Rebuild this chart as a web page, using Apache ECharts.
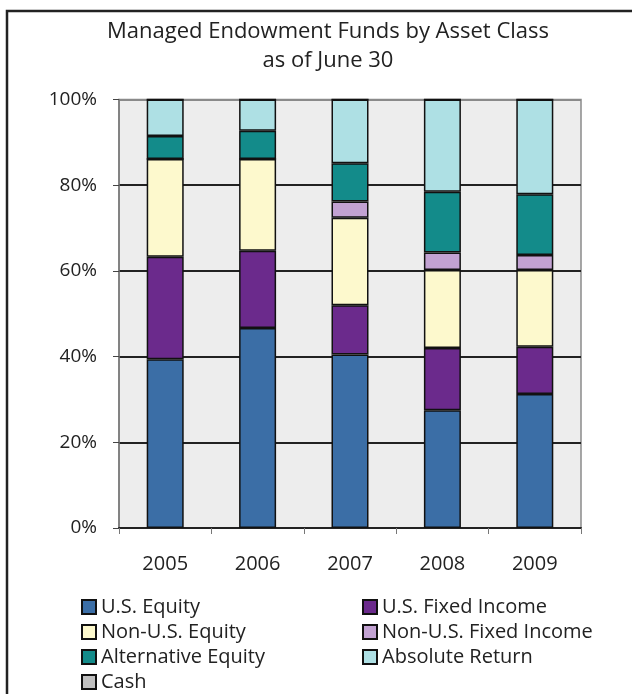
<!DOCTYPE html>
<html>
<head>
<meta charset="utf-8">
<script src="https://cdn.jsdelivr.net/npm/echarts@6/dist/echarts.min.js"></script>
<style>
	html, body { margin: 0; padding: 0; background: #fff; }
	#chart { width: 632px; height: 694px; }
</style>
</head>
<body>
<div id="chart"></div>
<script>
var years = ['2005', '2006', '2007', '2008', '2009'];
var yTicks = ['0%', '20%', '40%', '60%', '80%', '100%'];

// percent of total
var usEquity = [39.4, 46.7, 40.5, 27.5, 31.3];
var usFixed = [23.9, 18.0, 11.5, 14.5, 11.0];
var nonUsEquity = [22.8, 21.4, 20.4, 18.2, 17.9];
var nonUsFixed = [0, 0, 3.8, 4.1, 3.5];
var altEquity = [5.4, 6.6, 8.9, 14.2, 14.2];
var absReturn = [8.5, 7.3, 14.9, 21.5, 22.1];
var cash = [0, 0, 0, 0, 0];

var font = 'Open Sans';

function bar(name, data, color) {
	return {
		name: name,
		type: 'bar',
		stack: 'total',
		barWidth: 37,
		silent: true,
		data: data,
		itemStyle: {
			color: color,
			borderColor: '#111',
			borderWidth: 1.5
		}
	};
}

var legendCommon = {
	orient: 'vertical',
	icon: 'rect',
	itemWidth: 14,
	itemHeight: 14,
	itemGap: 1,
	padding: 0,
	height: 140,
	selectedMode: false,
	textStyle: {
		fontFamily: font,
		fontSize: 20,
		lineHeight: 24,
		color: '#222'
	},
	itemStyle: {
		borderColor: '#111',
		borderWidth: 2
	}
};

var option = {
	animation: false,
	backgroundColor: '#fff',
	graphic: [{
		type: 'polyline',
		shape: { points: [[7, 700], [7, 11], [640, 11]] },
		style: { stroke: '#222', lineWidth: 2.5, fill: null }
	}, {
		type: 'text',
		x: 328,
		y: 17,
		style: {
			text: 'Managed Endowment Funds by Asset Class\nas of June 30',
			align: 'center',
			fontFamily: font,
			fontSize: 22,
			lineHeight: 29,
			fill: '#222'
		}
	}],
	legend: [
		Object.assign({}, legendCommon, {
			left: 81,
			top: 595,
			data: ['U.S. Equity', 'Non-U.S. Equity', 'Alternative Equity', 'Cash']
		}),
		Object.assign({}, legendCommon, {
			left: 362,
			top: 595,
			data: ['U.S. Fixed Income', 'Non-U.S. Fixed Income', 'Absolute Return']
		})
	],
	grid: {
		left: 119,
		right: 51,
		top: 99.5,
		bottom: 166,
		show: true,
		backgroundColor: '#ededed',
		borderColor: '#8a8a8a',
		borderWidth: 1.5
	},
	xAxis: {
		type: 'category',
		data: years,
		axisLine: { lineStyle: { color: '#222', width: 2 } },
		axisTick: { show: true, length: 6, lineStyle: { color: '#777' } },
		axisLabel: {
			fontFamily: font,
			fontSize: 20,
			color: '#222',
			margin: 26
		}
	},
	yAxis: {
		type: 'value',
		min: 0,
		max: 100,
		interval: 20,
		axisLine: { show: true, lineStyle: { color: '#777', width: 1.5 } },
		axisTick: { show: true, length: 6, lineStyle: { color: '#444' } },
		splitLine: {
			show: true,
			lineStyle: {
				color: ['#222', '#222', '#222', '#222', '#222', '#8a8a8a'],
				width: 2
			}
		},
		axisLabel: {
			fontFamily: font,
			fontSize: 19,
			color: '#222',
			margin: 22,
			formatter: function(v) {
				return yTicks[Math.round(v / 20)];
			}
		}
	},
	series: [
		bar('U.S. Equity', usEquity, '#3b6ea6'),
		bar('U.S. Fixed Income', usFixed, '#6b2a8c'),
		bar('Non-U.S. Equity', nonUsEquity, '#fdf9cd'),
		bar('Non-U.S. Fixed Income', nonUsFixed, '#c2a2d2'),
		bar('Alternative Equity', altEquity, '#138b8a'),
		bar('Absolute Return', absReturn, '#aee0e4'),
		bar('Cash', cash, '#c0c0c0')
	]
};

var my = echarts.init(document.getElementById('chart'));
my.setOption(option);
</script>
</body>
</html>
